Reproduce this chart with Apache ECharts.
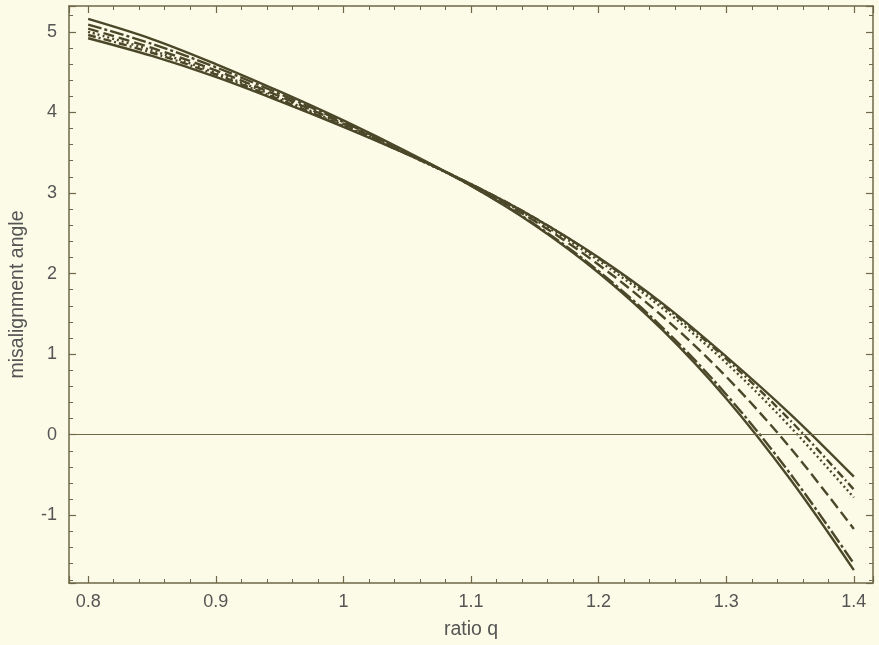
<!DOCTYPE html>
<html><head><meta charset="utf-8">
<script src="https://cdn.jsdelivr.net/npm/echarts@6/dist/echarts.min.js"></script>
<style>html,body{margin:0;padding:0;background:#fcfbe7}#c{width:879px;height:645px}</style>
</head><body><div id="c"></div><script>
// ratio q sample points
const qValues = [0.80, 0.85, 0.90, 0.95, 1.00, 1.05, 1.10, 1.15, 1.20, 1.25, 1.30, 1.35, 1.40];
// misalignment angle curves
const curveA = [4.92, 4.70, 4.44, 4.14, 3.82, 3.48, 3.11, 2.69, 2.20, 1.63, 0.97, 0.26, -0.52];
const curveB = [4.96, 4.74, 4.47, 4.16, 3.83, 3.48, 3.11, 2.69, 2.19, 1.61, 0.94, 0.18, -0.68];
const curveC = [5.00, 4.77, 4.49, 4.18, 3.84, 3.48, 3.10, 2.67, 2.16, 1.57, 0.89, 0.10, -0.78];
const curveD = [5.04, 4.80, 4.52, 4.20, 3.86, 3.49, 3.10, 2.65, 2.11, 1.47, 0.72, -0.16, -1.17];
const curveE = [5.09, 4.85, 4.56, 4.23, 3.88, 3.50, 3.09, 2.61, 2.03, 1.33, 0.50, -0.48, -1.60];
const curveF = [5.16, 4.91, 4.60, 4.26, 3.90, 3.51, 3.09, 2.60, 2.01, 1.30, 0.45, -0.55, -1.68];
const zeroLevel = 0;
const xRange = [0.785, 1.415];
const yRange = [-1.84, 5.32];

const lineColor = '#4b482a';
const frameColor = '#6e6848';
const textColor = '#555555';
const fontFamily = '"Liberation Sans", Arial, sans-serif';

const curves = [
  {name: 'A', data: curveA, type: 'solid'},
  {name: 'B', data: curveB, type: [8, 3, 2, 3]},
  {name: 'C', data: curveC, type: [2, 3]},
  {name: 'D', data: curveD, type: [11, 5]},
  {name: 'E', data: curveE, type: [14, 3, 3, 3]},
  {name: 'F', data: curveF, type: 'solid'}
];

const series = curves.map((c, i) => ({
  type: 'line',
  name: c.name,
  data: qValues.map((q, k) => [q, c.data[k]]),
  showSymbol: false,
  smooth: 0.35,
  lineStyle: {color: lineColor, width: 2.4, type: c.type},
  z: 3,
  markLine: i === 0 ? {
    silent: true, symbol: 'none', label: {show: false},
    lineStyle: {color: frameColor, width: 1.2, type: 'solid'},
    data: [{yAxis: zeroLevel}]
  } : undefined
}));

function valueAxis(extra) {
  return Object.assign({
    type: 'value',
    splitLine: {show: false},
    axisLine: {show: true, onZero: false, lineStyle: {color: frameColor, width: 1.5}},
    axisTick: {show: true, inside: true, length: 7, lineStyle: {color: frameColor, width: 1.2}},
    minorTick: {show: true, splitNumber: 5, length: 4, lineStyle: {color: frameColor, width: 1}},
    axisLabel: {show: false}
  }, extra);
}

const labelStyle = {show: true, color: textColor, fontFamily: fontFamily, fontSize: 18, showMinLabel: false, showMaxLabel: false};
const nameStyle = {color: textColor, fontFamily: fontFamily, fontSize: 19.5};

const option = {
  backgroundColor: '#fcfbe7',
  animation: false,
  grid: {left: 69, right: 6, top: 6, bottom: 62, containLabel: false},
  xAxis: [
    valueAxis({min: xRange[0], max: xRange[1], position: 'bottom',
      axisLabel: Object.assign({margin: 10}, labelStyle),
      name: 'ratio q', nameLocation: 'middle', nameGap: 37, nameTextStyle: nameStyle}),
    valueAxis({min: xRange[0], max: xRange[1], position: 'top'})
  ],
  yAxis: [
    valueAxis({min: yRange[0], max: yRange[1], position: 'left',
      axisLabel: Object.assign({margin: 12}, labelStyle),
      name: 'misalignment angle', nameLocation: 'middle', nameGap: 41, nameTextStyle: nameStyle}),
    valueAxis({min: yRange[0], max: yRange[1], position: 'right'})
  ],
  series: series
};

const chart = echarts.init(document.getElementById('c'), null, {renderer: 'canvas'});
chart.setOption(option);
</script></body></html>
